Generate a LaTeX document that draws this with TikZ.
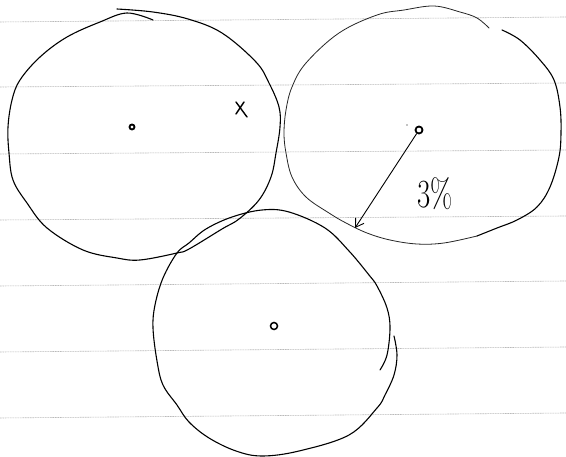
\documentclass[tikz,border=0pt]{standalone}
\usetikzlibrary{arrows.meta}
\begin{document}
\begin{tikzpicture}[x=1pt,y=-1pt,
  ruled/.style={gray!55,line width=0.6pt,dash pattern=on 1.6pt off 0.9pt},
  pen/.style={black,line width=1.1pt,line cap=round,line join=round},
  thinpen/.style={black!85,line width=0.8pt,line cap=round,line join=round},
  dotring/.style={circle,draw=black,line width=1.8pt,inner sep=0pt,minimum size=5pt},
  lbl/.style={font=\fontsize{40}{40}\selectfont,inner sep=0pt}]
\useasboundingbox (0,0) rectangle (566,457);
\fill[white] (0,0) rectangle (566,457);
% ruled paper lines
\foreach \a/\b in {22/17,87/83,154/150,220/216,286/281,352/347,418/413}
  \draw[ruled] (0,\a) -- (566,\b);
% left circle
\draw[pen] plot[smooth,tension=0.6] coordinates {
 (153,20) (127,13) (100,22) (67,37) (40,57) (20,80) (12,100) (8,127) (9,153)
 (13,180) (27,203) (47,228) (83,250) (117,258) (140,260) (177,253) (189,249)
 (222,229) (239,219) (259,200) (271,177) (276,153) (280,127) (279,107)
 (269,83) (256,62) (222,33) (188,19) (153,12) (117,9)};
% right circle
\draw[thinpen] plot[smooth,tension=0.6] coordinates {
 (489,28) (477,18) (460,12) (434,6) (404,10) (377,15) (339,33) (306,63)
 (292,87) (286,110) (284,133) (286,153) (292,177) (306,197) (329,213)
 (346,223) (367,233) (390,240) (417,244) (444,243) (477,236)};
\draw[pen] plot[smooth,tension=0.6] coordinates {
 (477,236) (497,228) (517,220) (537,207) (550,187) (559,157) (561,133)
 (560,107) (554,80) (540,60) (520,40) (502,30)};
% bottom circle
\draw[pen] plot[smooth,tension=0.6] coordinates {
 (394,336) (397,355) (394,375) (385,395) (377,408) (349,435) (299,451)
 (262,456) (236,451) (209,438) (189,422) (177,405) (163,385) (157,361)
 (153,328) (155,305) (163,278) (177,253) (189,243) (206,229) (232,217)
 (262,210) (289,212) (325,228) (349,251) (369,275) (377,286) (387,308)
 (390,328) (387,355) (380,370)};
% centres
\node[dotring] (cL) at (132,127) {};
\node[dotring,minimum size=7pt] (cR) at (419,130) {};
\node[dotring,minimum size=7pt,line width=1.5pt] (cB) at (274,326) {};
\fill (407,125) circle (0.7pt);
% x mark
\draw[pen,line width=1.4pt] (236,102) -- (247,117);
\draw[pen,line width=1.4pt] (244,102) -- (236,114);
% arrow
\coordinate (tip) at (355,228);
\draw[pen,line width=0.9pt,-{Straight Barb[length=8pt,width=10pt]}] (cR) -- (tip);
\node[lbl] (pct) at (435,194) {\scalebox{0.72}[1]{3\%}};
\end{tikzpicture}
\end{document}
